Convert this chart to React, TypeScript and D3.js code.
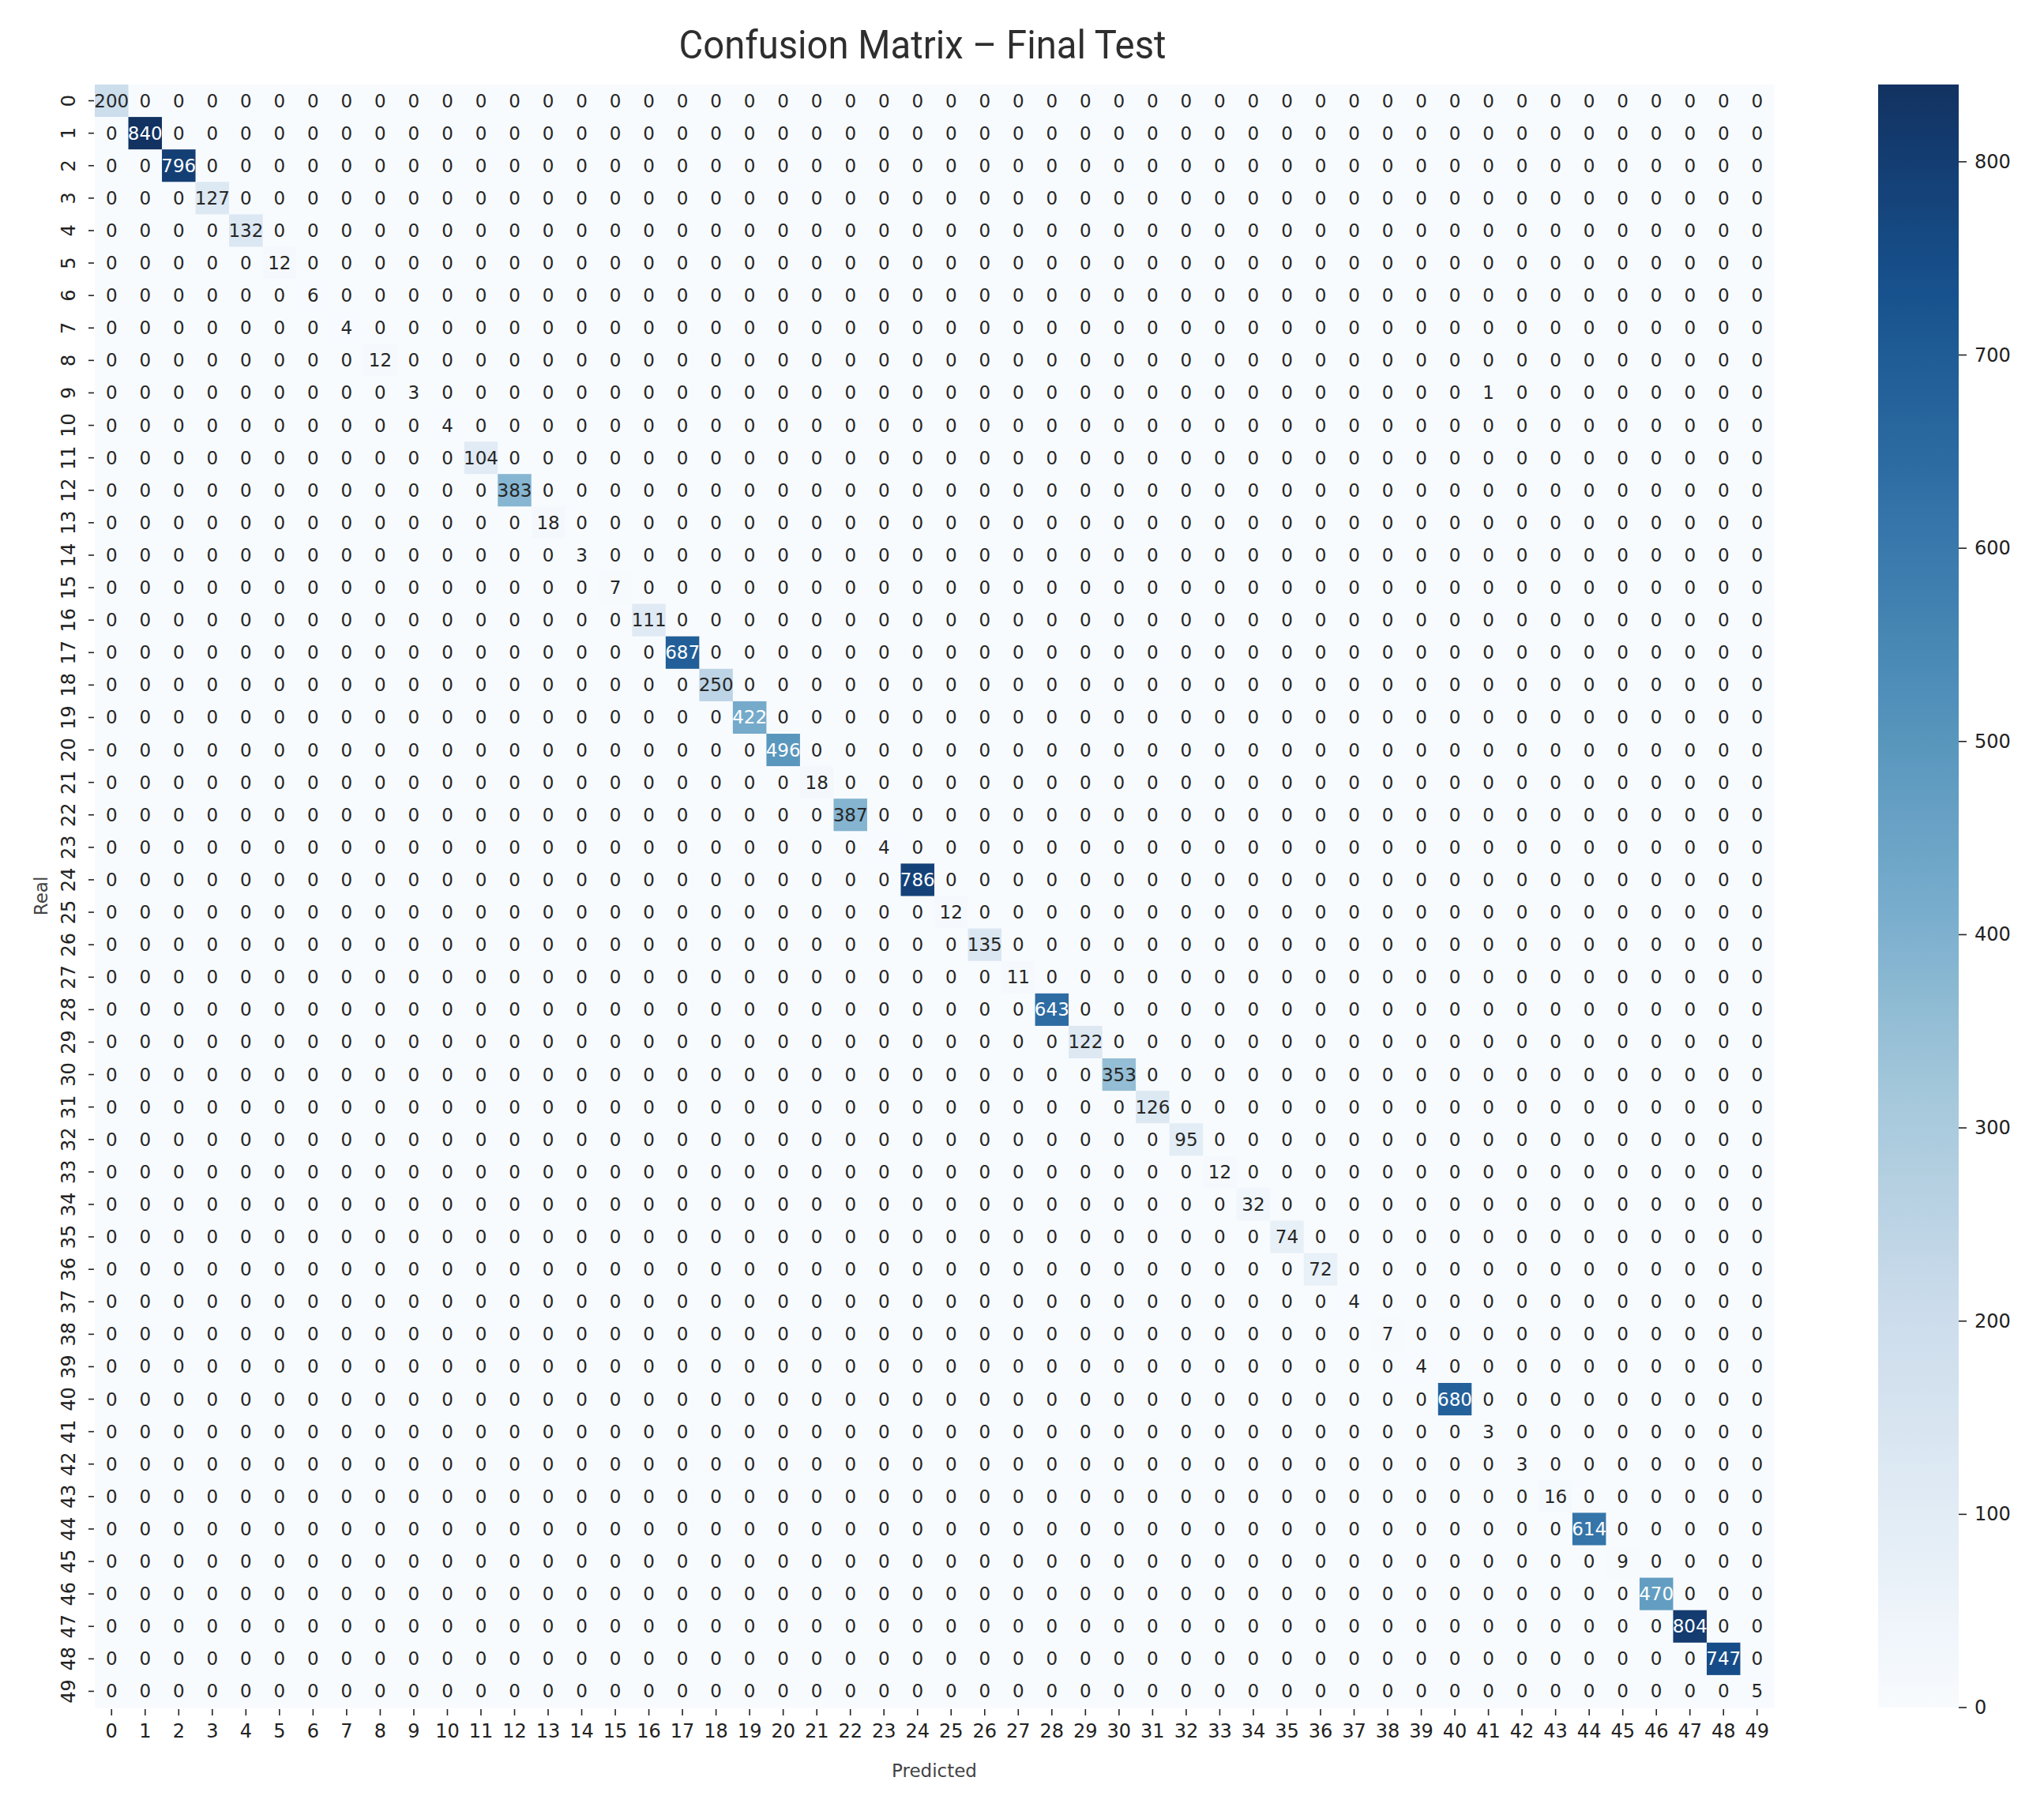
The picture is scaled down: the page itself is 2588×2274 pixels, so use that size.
import React from "react";
import * as d3 from "d3";

const classLabels = [
  "0","1","2","3","4","5","6","7","8","9",
  "10","11","12","13","14","15","16","17","18","19",
  "20","21","22","23","24","25","26","27","28","29",
  "30","31","32","33","34","35","36","37","38","39",
  "40","41","42","43","44","45","46","47","48","49",
];

// Diagonal (correct predictions) per class
const diagonalCounts = [
  200, 840, 796, 127, 132, 12, 6, 4, 12, 3,
  4, 104, 383, 18, 3, 7, 111, 687, 250, 422,
  496, 18, 387, 4, 786, 12, 135, 11, 643, 122,
  353, 126, 95, 12, 32, 74, 72, 4, 7, 4,
  680, 3, 3, 16, 614, 9, 470, 804, 747, 5,
];

// Off-diagonal non-zero cells
const offDiagonal = [{ real: 9, predicted: 41, count: 1 }];

const colorbarTicks = [0, 100, 200, 300, 400, 500, 600, 700, 800];

// matplotlib "Blues" colormap anchor colours
const bluesStops = [
  "#f7fbff", "#deebf7", "#c6dbef", "#9ecae1", "#6baed6",
  "#4292c6", "#2171b5", "#08519c", "#08306b",
];

const titleText = "Confusion Matrix \u2013 Final Test";
const xLabel = "Predicted";
const yLabel = "Real";

function relLum(c: string) {
  const { r, g, b } = d3.rgb(c);
  const f = (v: number) => {
    v /= 255;
    return v <= 0.03928 ? v / 12.92 : Math.pow((v + 0.055) / 1.055, 2.4);
  };
  return 0.2126 * f(r) + 0.7152 * f(g) + 0.0722 * f(b);
}

export default function App() {
  const W = 2588;
  const H = 2274;
  const left = 120, right = 2246, top = 107, bottom = 2162;

  const n = classLabels.length;
  const matrix: number[][] = classLabels.map((_, i) =>
    classLabels.map((__, j) => (i === j ? diagonalCounts[i] : 0))
  );
  offDiagonal.forEach((d) => {
    matrix[d.real][d.predicted] = d.count;
  });

  const cells: { r: number; c: number; v: number }[] = [];
  for (let i = 0; i < n; i++) for (let j = 0; j < n; j++) cells.push({ r: i, c: j, v: matrix[i][j] });

  const vmax = d3.max(cells, (d) => d.v) as number;

  const x = d3.scaleBand<string>().domain(classLabels).range([left, right]);
  const y = d3.scaleBand<string>().domain(classLabels).range([top, bottom]);

  const baseColor = d3
    .scaleLinear<string>()
    .domain(bluesStops.map((_, i) => (i / (bluesStops.length - 1)) * vmax))
    .range(bluesStops)
    .interpolate(d3.interpolateRgb)
    .clamp(true);

  // slight desaturation to match the rendering of the reference
  const color = (v: number) => {
    const base = baseColor(v);
    const h = d3.hsl(base);
    h.s = h.s * 0.8;
    return h.formatHex();
  };

  const cbLeft = 2378, cbRight = 2480;
  const cbY = d3.scaleLinear().domain([0, vmax]).range([bottom, top]);
  const gradStops = d3.range(0, 101).map((k) => k / 100);

  const numFont = "'DejaVu Sans', Verdana, sans-serif";

  return (
    <svg
      width={W}
      height={H}
      viewBox={`0 0 ${W} ${H}`}
      style={{ position: "absolute", left: 0, top: 0, background: "#fff" }}
    >
      <defs>
        <linearGradient id="cbGrad" x1="0" y1="1" x2="0" y2="0">
          {gradStops.map((t) => (
            <stop key={t} offset={t} stopColor={color(t * vmax)} />
          ))}
        </linearGradient>
      </defs>
      <rect x={0} y={0} width={W} height={H} fill="#fff" />

      <text
        x={1168}
        y={74}
        textAnchor="middle"
        fontFamily="Roboto, 'Noto Sans', sans-serif"
        fontSize={50}
        fill="#2e2e2e"
        textLength={617}
        lengthAdjust="spacingAndGlyphs"
      >
        {titleText}
      </text>

      <g>
        {cells.map((d) => (
          <rect
            key={`c${d.r}-${d.c}`}
            x={x(classLabels[d.c])}
            y={y(classLabels[d.r])}
            width={x.bandwidth() + 0.6}
            height={y.bandwidth() + 0.6}
            fill={color(d.v)}
          />
        ))}
      </g>
      <g fontFamily={numFont} fontSize={23} textAnchor="middle">
        {cells.map((d) => (
          <text
            key={`t${d.r}-${d.c}`}
            x={(x(classLabels[d.c]) as number) + x.bandwidth() / 2}
            y={(y(classLabels[d.r]) as number) + y.bandwidth() / 2}
            dominantBaseline="central"
            fill={relLum(baseColor(d.v)) > 0.408 ? "#262626" : "#ffffff"}
          >
            {d.v}
          </text>
        ))}
      </g>

      {/* x axis */}
      <g fontFamily={numFont} fontSize={24} fill="#222">
        {classLabels.map((l) => {
          const cx = (x(l) as number) + x.bandwidth() / 2;
          return (
            <g key={`xt${l}`}>
              <line x1={cx} x2={cx} y1={bottom + 2} y2={bottom + 10} stroke="#222" strokeWidth={1.6} />
              <text x={cx} y={2192} textAnchor="middle" dominantBaseline="central">
                {l}
              </text>
            </g>
          );
        })}
      </g>
      {/* y axis */}
      <g fontFamily={numFont} fontSize={24} fill="#222">
        {classLabels.map((l) => {
          const cy = (y(l) as number) + y.bandwidth() / 2;
          return (
            <g key={`yt${l}`}>
              <line x1={left - 8} x2={left - 1} y1={cy} y2={cy} stroke="#222" strokeWidth={1.6} />
              <text
                transform={`translate(87,${cy}) rotate(-90)`}
                textAnchor="middle"
                dominantBaseline="central"
              >
                {l}
              </text>
            </g>
          );
        })}
      </g>

      <text x={1183} y={2242} textAnchor="middle" dominantBaseline="central" fontFamily={numFont} fontSize={23} fill="#444">
        {xLabel}
      </text>
      <text
        transform={`translate(52,${(top + bottom) / 2}) rotate(-90)`}
        textAnchor="middle"
        dominantBaseline="central"
        fontFamily={numFont}
        fontSize={23}
        fill="#444"
      >
        {yLabel}
      </text>

      {/* colorbar */}
      <rect x={cbLeft} y={top} width={cbRight - cbLeft} height={bottom - top} fill="url(#cbGrad)" />
      <g fontFamily={numFont} fontSize={24} fill="#222">
        {colorbarTicks.map((t) => (
          <g key={`cb${t}`}>
            <line x1={cbRight} x2={cbRight + 10} y1={cbY(t)} y2={cbY(t)} stroke="#222" strokeWidth={1.6} />
            <text x={2500} y={cbY(t)} dominantBaseline="central">
              {t}
            </text>
          </g>
        ))}
      </g>
    </svg>
  );
}
